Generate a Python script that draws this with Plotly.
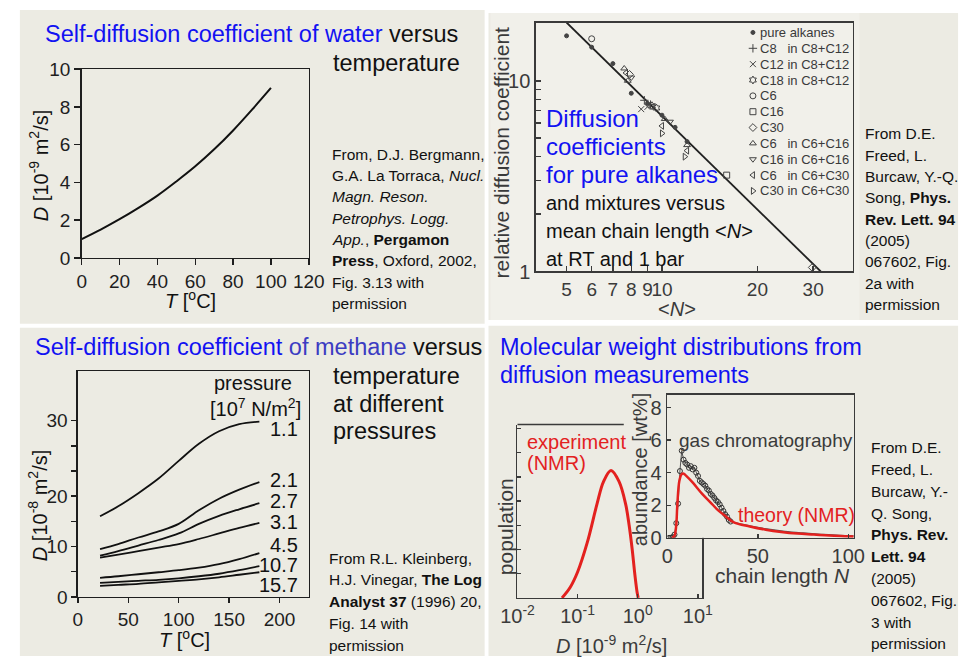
import plotly.graph_objects as go

W, H = 976, 667


def fx(p):
    return p / W


def fy(p):
    return 1 - p / H


SANS = "Liberation Sans, Arial, Helvetica, sans-serif"
CITE = "Liberation Sans, Arial, sans-serif"
BEIGE = "#ECEBE3"
LIGHT = "#F1F0EA"
BLUE = "#1212F2"
MBLUE = "#3C3CC2"
BLACK = "#111111"
DARK = "#1E1E1E"
GREY = "#3A3A3A"
RED = "#E3211F"

# ---------------- data: water self-diffusion ----------------
water_T = [0, 10, 20, 30, 40, 50, 60, 70, 80, 90, 100]
water_D = [1.0, 1.5, 2.05, 2.65, 3.3, 4.05, 4.85, 5.75, 6.75, 7.85, 9.0]

# ---------------- data: alkanes (relative D vs <N>) ----------------
fit_N = [5.0, 31.7]
fit_rel = [20.2, 1.0]
pure_N = [5, 6, 7, 8, 9, 10, 11, 12]
pure_rel = [17.2, 15.0, 12.3, 8.6, 7.6, 6.6, 5.7, 4.8]
c8mix_N = [8.8, 9.2]
c8mix_rel = [7.9, 7.5]
c12mix_N = [8.6, 9.0]
c12mix_rel = [7.1, 7.3]
c18mix_N = [9.3, 9.6]
c18mix_rel = [7.4, 7.2]
c6_N = [6.0]
c6_rel = [16.6]
c16_N = [16.0]
c16_rel = [3.2]
c30_N = [7.9, 29.8]
c30_rel = [10.8, 1.05]
c6in16_N = [7.6, 7.8, 10.2, 12.0]
c6in16_rel = [11.6, 10.0, 6.3, 4.6]
c16in16_N = [8.0, 10.6]
c16in16_rel = [10.4, 6.1]
c6in30_N = [7.7, 10.0, 12.0]
c6in30_rel = [11.0, 5.8, 4.3]
c30in30_N = [10.0, 11.8]
c30in30_rel = [5.3, 4.0]
NB = "\u00a0"
legend_labels = ["pure alkanes", "C8" + NB * 3 + "in C8+C12", "C12 in C8+C12", "C18 in C8+C12",
                 "C6", "C16", "C30", "C6" + NB * 3 + "in C6+C16", "C16 in C6+C16",
                 "C6" + NB * 3 + "in C6+C30", "C30 in C6+C30"]
legend_symbols = ["circle", "cross-thin", "x-thin", "hexagram-open", "circle-open", "square-open",
                  "diamond-open", "triangle-up-open", "triangle-down-open", "triangle-left-open",
                  "triangle-right-open"]

# ---------------- data: methane vs T at pressures ----------------
methane_T = [22, 40, 60, 80, 100, 120, 140, 160, 180]
pressure_labels = ["1.1", "2.1", "2.7", "3.1", "4.5", "10.7", "15.7"]
D_p1_1 = [16.0, 18.0, 20.6, 23.5, 27.0, 30.4, 32.9, 34.3, 34.8]
D_p2_1 = [9.5, 10.5, 11.8, 13.0, 14.5, 17.2, 19.5, 21.3, 22.8]
D_p2_7 = [8.2, 9.1, 10.2, 11.3, 12.6, 14.5, 16.1, 17.4, 18.6]
D_p3_1 = [7.8, 8.4, 9.1, 9.8, 10.5, 11.5, 12.6, 13.7, 14.7]
D_p4_5 = [3.8, 4.1, 4.5, 4.9, 5.3, 5.8, 6.5, 7.5, 8.7]
D_p10_7 = [2.8, 3.0, 3.2, 3.4, 3.7, 4.1, 4.6, 5.3, 6.1]
D_p15_7 = [2.2, 2.4, 2.6, 2.9, 3.2, 3.5, 3.9, 4.4, 4.9]
methane_y_ticks = [0, 5, 10, 15, 20, 25, 30, 35]
methane_y_text = ["0", "", "10", "", "20", "", "", "30"]

# ---------------- data: NMR population vs D ----------------
nmr_D = [0.055, 0.075, 0.1, 0.145, 0.21, 0.27, 0.36, 0.49, 0.63, 0.72, 0.81, 0.9, 0.98, 1.02]
nmr_pop = [0.0, 0.43, 1.07, 2.29, 3.87, 4.80, 5.26, 4.80, 3.87, 3.0, 2.0, 0.93, 0.21, 0.0]

# ---------------- data: inset abundance vs chain length ----------------
gc_N = [1, 2, 3, 4, 5, 6, 7, 8, 9, 10, 11, 12, 13, 14, 15, 16, 17, 18, 19, 20, 21, 22, 23, 24,
        25, 26, 27, 28, 29, 30, 31, 32, 33, 34, 35]
gc_ab = [0.0, 0.0, 0.05, 0.2, 0.9, 2.1, 4.1, 5.35, 4.8, 4.6, 4.5, 4.3, 4.4, 4.2, 4.3, 4.0,
         3.8, 3.5, 3.4, 3.3, 3.2, 3.0, 2.9, 2.7, 2.6, 2.45, 2.3, 2.2, 2.05, 1.85, 1.65, 1.45,
         1.3, 1.1, 1.0]
gc_tail_N = [35, 45, 55, 65, 75, 85, 95, 103]
gc_tail_ab = [1.0, 0.75, 0.55, 0.4, 0.3, 0.22, 0.15, 0.12]
theory_N = [2.6, 3.9, 4.9, 5.6, 6.7, 7.9, 9.1, 10.5, 14, 19.3, 23.7, 28, 32.5, 36.8, 45.6,
            54.4, 63, 72, 81, 89.5, 98, 103]
theory_ab = [0.0, 0.1, 0.7, 2.1, 3.5, 3.9, 3.94, 3.8, 3.4, 2.7, 2.2, 1.7, 1.3, 0.95, 0.7,
             0.5, 0.36, 0.26, 0.2, 0.14, 0.1, 0.08]

fig = go.Figure()

# water
fig.add_trace(go.Scatter(x=water_T, y=water_D, mode="lines", line=dict(color=BLACK, width=2, shape="spline"),
                         xaxis="x", yaxis="y", showlegend=False, hoverinfo="skip"))

# alkanes
fig.add_trace(go.Scatter(x=fit_N, y=fit_rel, mode="lines", line=dict(color="#202020", width=1.8),
                         xaxis="x2", yaxis="y2", showlegend=False, hoverinfo="skip"))
alk_series = [(pure_N, pure_rel), (c8mix_N, c8mix_rel), (c12mix_N, c12mix_rel), (c18mix_N, c18mix_rel),
              (c6_N, c6_rel), (c16_N, c16_rel), (c30_N, c30_rel), (c6in16_N, c6in16_rel),
              (c16in16_N, c16in16_rel), (c6in30_N, c6in30_rel), (c30in30_N, c30in30_rel)]


def msize(sym):
    return 4 if sym == "circle" else 6


for (xs, ys), sym in zip(alk_series, legend_symbols):
    fig.add_trace(go.Scatter(x=xs, y=ys, mode="markers",
                             marker=dict(symbol=sym, size=msize(sym), color="#444",
                                         line=dict(width=1, color="#444")),
                             xaxis="x2", yaxis="y2", showlegend=False, hoverinfo="skip"))
# manual legend (overlay axes on the same plot area)
leg_idx = list(range(len(legend_labels)))
for i, sym in enumerate(legend_symbols):
    fig.add_trace(go.Scatter(x=[0.685], y=[leg_idx[i]], mode="markers",
                             marker=dict(symbol=sym, size=msize(sym), color="#444",
                                         line=dict(width=1, color="#444")),
                             xaxis="x6", yaxis="y6", showlegend=False, hoverinfo="skip"))

# methane
for ys in [D_p1_1, D_p2_1, D_p2_7, D_p3_1, D_p4_5, D_p10_7, D_p15_7]:
    fig.add_trace(go.Scatter(x=methane_T, y=ys, mode="lines", line=dict(color=BLACK, width=1.8, shape="spline"),
                             xaxis="x3", yaxis="y3", showlegend=False, hoverinfo="skip"))

# NMR population
fig.add_trace(go.Scatter(x=nmr_D, y=nmr_pop, mode="lines", line=dict(color=RED, width=3, shape="spline"),
                         xaxis="x4", yaxis="y4", showlegend=False, hoverinfo="skip"))

# inset
fig.add_trace(go.Scatter(x=gc_tail_N, y=gc_tail_ab, mode="lines", line=dict(color="#555", width=1.2, shape="spline"),
                         xaxis="x5", yaxis="y5", showlegend=False, hoverinfo="skip"))
fig.add_trace(go.Scatter(x=gc_N, y=gc_ab, mode="lines+markers", line=dict(color="#555", width=1),
                         marker=dict(symbol="circle-open", size=5, color="#333", line=dict(width=1, color="#333")),
                         xaxis="x5", yaxis="y5", showlegend=False, hoverinfo="skip"))
fig.add_trace(go.Scatter(x=theory_N, y=theory_ab, mode="lines", line=dict(color=RED, width=2.5, shape="spline"),
                         xaxis="x5", yaxis="y5", showlegend=False, hoverinfo="skip"))


def axis(dom, rng, color=DARK, ticks="outside", ticklen=6, size=19, **kw):
    d = dict(domain=dom, range=rng, showgrid=False, zeroline=False, showline=True, mirror=True,
             linecolor=color, linewidth=1.5, ticks=ticks, ticklen=ticklen, tickwidth=1.5,
             tickcolor=color, tickfont=dict(family=SANS, size=size, color=color), fixedrange=True,
             tickangle=0)
    d.update(kw)
    return d


layout = dict(
    width=W, height=H, autosize=False, margin=dict(l=0, r=0, t=0, b=0, pad=0),
    paper_bgcolor="white", plot_bgcolor=BEIGE, showlegend=False,
    xaxis=axis([fx(67), fx(302)], [0, 120], tickvals=[0, 20, 40, 60, 80, 100, 120], anchor="y"),
    yaxis=axis([fy(256), fy(61)], [0, 10], tickvals=[0, 2, 4, 6, 8, 10], anchor="x"),
    xaxis2=axis([fx(537), fx(865)], [0.602, 1.602], color=GREY, ticks="inside", ticklen=5, type="log",
                tickvals=[5, 6, 7, 8, 9, 10, 20, 30], ticktext=["5", "6", "7", "8", "9", "10", "20", "30"],
                anchor="y2"),
    yaxis2=axis([fy(270), fy(13)], [0, 1.305], color=GREY, ticks="inside", ticklen=5, type="log", size=20,
                tickvals=[1, 2, 3, 4, 5, 6, 7, 8, 9, 10, 20],
                ticktext=["1", "", "", "", "", "", "", "", "", "10", ""], anchor="x2"),
    xaxis6=dict(overlaying="x2", range=[0, 1], visible=False, fixedrange=True, anchor="y6"),
    yaxis6=dict(overlaying="y2", range=[15.085, -0.623], visible=False, fixedrange=True, anchor="x6"),
    xaxis3=axis([fx(63), fx(302)], [0, 229], tickvals=[0, 50, 100, 150, 200], ticklen=5, anchor="y3"),
    yaxis3=axis([fy(606), fy(373)], [0, 44.8], tickvals=methane_y_ticks, ticktext=methane_y_text,
                ticklen=5, anchor="x3"),
    xaxis4=axis([fx(518), fx(709)], [-2, 1.07], color=GREY, ticks="inside", ticklen=4, type="log", size=20,
                tickvals=[0.01, 0.1, 1, 10],
                ticktext=["10<sup>-2</sup>", "10<sup>-1</sup>", "10<sup>0</sup>", "10<sup>1</sup>"],
                mirror=False, anchor="y4"),
    yaxis4=axis([fy(607), fy(428)], [0, 7.16], color=GREY, ticks="inside", ticklen=4, dtick=1,
                showticklabels=False, anchor="x4"),
    xaxis5=axis([fx(673), fx(866)], [0, 103], color=GREY, ticks="inside", ticklen=4, size=20,
                tickvals=[0, 50, 100], anchor="y5"),
    yaxis5=axis([fy(545), fy(397)], [0, 8.8], color=GREY, ticks="inside", ticklen=4, size=20,
                tickvals=[0, 2, 4, 6, 8], anchor="x5"),
)

shapes = []
for (x0, y0, x1, y1, c) in [(3, 0, 484, 324, BEIGE), (488, 3, 974, 320, BEIGE), (490, 3, 872, 320, LIGHT),
                            (3, 328, 484, 667, BEIGE), (488, 326, 974, 667, BEIGE)]:
    shapes.append(dict(type="rect", xref="paper", yref="paper", x0=fx(x0), x1=fx(x1), y0=fy(y1), y1=fy(y0),
                       fillcolor=c, line=dict(width=0), layer="below"))
# top frame line of the NMR panel (partly hidden by the inset)
shapes.append(dict(type="line", xref="paper", yref="paper", x0=fx(518), x1=fx(628), y0=fy(428), y1=fy(428),
                   line=dict(color=GREY, width=1.5), layer="above"))
layout["shapes"] = shapes

ann = []


def txt(s, x, y, size, color=BLACK, family=SANS, anchor="left", angle=0, yref="paper"):
    ann.append(dict(text=s, x=fx(x), y=(fy(y) if yref == "paper" else y), xref="paper", yref=yref,
                    showarrow=False, xanchor=anchor, yanchor="middle", textangle=angle,
                    font=dict(family=family, size=size, color=color)))


def lines(items, x, y0, step, size=15.5, family=CITE, color=BLACK):
    for i, s in enumerate(items):
        txt(s, x, y0 + i * step, size, color=color, family=family)


TS = 23.5
# top-left
txt('<span style="color:%s">Self-diffusion coefficient of water</span> versus' % BLUE, 27, 25, TS)
txt("temperature", 325, 55, TS)
lines(["From, D.J. Bergmann,", "G.A. La Torraca, <i>Nucl.</i>", "<i>Magn. Reson.</i>", "<i>Petrophys. Logg.</i>",
       "<i>App.</i>, <b>Pergamon</b>", "<b>Press</b>, Oxford, 2002,", "Fig. 3.13 with", "permission"],
      324, 149, 22)
txt("<i>D</i> [10<sup>-9</sup> m<sup>2</sup>/s]", 23, 161, 20, anchor="center", angle=-90)
txt("<i>T</i> [<sup>o</sup>C]", 180, 299, 20, anchor="center")

# top-right
txt("relative diffusion coefficient", 501, 147, 21, color=GREY, anchor="center", angle=-90)
txt("&lt;<i>N</i>&gt;", 683, 309, 20, color=GREY, anchor="center")
for i, s in enumerate(["Diffusion", "coefficients", "for pure alkanes"]):
    txt(s, 545, 112 + 29 * i, 24, color=BLUE)
for i, s in enumerate(["and mixtures versus", "mean chain length &lt;<i>N</i>&gt;", "at RT and 1 bar"]):
    txt(s, 545, 199 + 29 * i, 20)
for i, s in enumerate(legend_labels):
    txt(s, 767, leg_idx[i], 13, color=GREY, yref="y6")
lines(["From D.E.", "Freed, L.", "Burcaw, Y.-Q.", "Song, <b>Phys.</b>", "<b>Rev. Lett. 94</b>", "(2005)",
       "067602, Fig.", "2a with", "permission"], 876, 128, 22)

# bottom-left
txt('<span style="color:%s">Self-diffusion coefficient</span><span style="color:%s"> of methane</span> versus'
    % (BLUE, MBLUE), 17, 348, TS)
for i, s in enumerate(["temperature", "at different", "pressures"]):
    txt(s, 325, 378 + 28.5 * i, TS)
lines(["From R.L. Kleinberg,", "H.J. Vinegar, <b>The Log</b>", "<b>Analyst 37</b> (1996) 20,", "Fig. 14 with",
       "permission"], 321, 566, 22.5)
txt("<i>D</i> [10<sup>-8</sup> m<sup>2</sup>/s]", 22, 512, 20, anchor="center", angle=-90)
txt("<i>T</i> [<sup>o</sup>C]", 173, 649, 20, anchor="center")
txt("pressure", 287, 385, 20, anchor="right")
txt("[10<sup>7</sup> N/m<sup>2</sup>]", 296, 410, 20, anchor="right")
for s, yy in zip(pressure_labels, [433, 485, 507, 529, 552, 573, 594]):
    txt(s, 293, yy, 20, anchor="right")

# bottom-right
txt("Molecular weight distributions from", 498, 348, TS, color=BLUE)
txt("diffusion measurements", 498, 377, TS, color=BLUE)
txt("experiment", 526, 446, 20, color=RED)
txt("(NMR)", 526, 468, 20, color=RED)
txt("population", 505, 533, 21, color=GREY, anchor="center", angle=-90)
txt("<i>D</i> [10<sup>-9</sup> m<sup>2</sup>/s]", 615, 655, 20, color=GREY, anchor="center")
txt("abundance [wt%]", 645, 475, 20, color=GREY, anchor="center", angle=-90)
txt("chain length <i>N</i>", 792, 584, 21, color=GREY, anchor="center")
txt("gas chromatography", 683, 444, 19, color=GREY)
txt("theory (NMR)", 744, 521, 19.5, color=RED)
lines(["From D.E.", "Freed, L.", "Burcaw, Y.-", "Q. Song,", "<b>Phys. Rev.</b>", "<b>Lett. 94</b>", "(2005)",
       "067602, Fig.", "3 with", "permission"], 882, 452, 22.5)

layout["annotations"] = ann
fig.update_layout(**layout)
post = ("var s=document.createElement('style');"
        "s.innerHTML='html,body{margin:0;padding:0;overflow:hidden;}';"
        "document.head.appendChild(s);")
fig.write_html("out.html", config={"displayModeBar": False, "staticPlot": True}, post_script=post)
